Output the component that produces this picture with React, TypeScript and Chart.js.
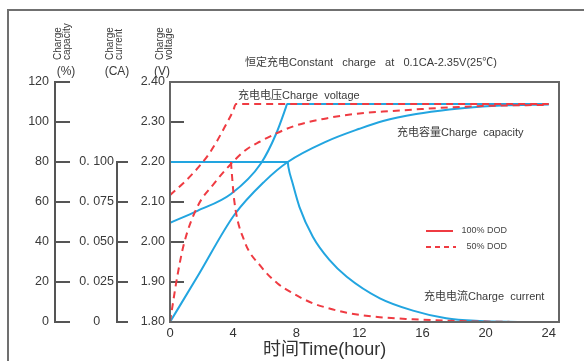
import React, { useEffect, useRef } from 'react';
import { Chart, registerables } from 'chart.js';

Chart.register(...registerables);

// ---------- data ----------
const xTicks = [0, 4, 8, 12, 16, 20, 24];
const xTickLabels = ['0', '4', '8', '12', '16', '20', '24'];

const voltageTicks = [1.8, 1.9, 2.0, 2.1, 2.2, 2.3, 2.4];
const voltageTickLabels = ['1.80', '1.90', '2.00', '2.10', '2.20', '2.30', '2.40'];
const capacityTicks = [0, 20, 40, 60, 80, 100, 120];
const capacityTickLabels = ['0', '20', '40', '60', '80', '100', '120'];
const currentTicks = [0, 0.025, 0.05, 0.075, 0.1];
const currentTickLabels = ['0', '0. 025', '0. 050', '0. 075', '0. 100'];

// 100% DOD (blue, solid)
const blueVoltageHours = [0, 1.74, 3.86, 5.77, 6.72, 7.35, 7.42, 24];
const blueVoltage = [2.048, 2.078, 2.12, 2.197, 2.27, 2.337, 2.345, 2.345];
const blueCapacityHours = [0, 1.74, 4.07, 5.98, 7.46, 9.9, 12, 13.5, 15.6, 17.7, 19.8, 21, 24];
const blueCapacity = [0, 22.7, 53.5, 70.2, 80, 90.2, 96.6, 100.5, 104, 106.3, 107.8, 108.3, 108.8];
const blueCurrentHours = [0, 7.46, 7.5, 7.77, 8.2, 9.05, 10.1, 11.2, 13.3, 15.4, 17.5, 19.6, 22.2];
const blueCurrent = [0.1, 0.1, 0.097, 0.0867, 0.072, 0.0533, 0.0388, 0.0283, 0.0148, 0.0071, 0.0023, 0.0006, 0];

// 50% DOD (red, dashed)
const redVoltageHours = [0, 1, 2, 2.5, 3, 3.5, 4, 4.18, 24];
const redVoltage = [2.117, 2.153, 2.196, 2.222, 2.254, 2.29, 2.328, 2.345, 2.345];
const redCapacityHours = [0, 0.46, 0.89, 1.74, 2.8, 3.86, 4.8, 5.65, 7.77, 9.9, 12, 13.5, 15.6, 17.7, 19.8, 24];
const redCapacity = [0, 22.7, 39.3, 57.7, 69.3, 79, 86, 90, 97.7, 101.8, 104.3, 105.2, 106.3, 107.3, 108, 108.6];
const redCurrentHours = [3.86, 4.07, 4.7, 5.77, 6.8, 7.77, 9.05, 9.9, 11.2, 13.3, 15.4, 17.5, 19.6, 22.2];
const redCurrent = [0.1, 0.076, 0.051, 0.0346, 0.0242, 0.018, 0.0117, 0.009, 0.0058, 0.003, 0.0017, 0.0008, 0.0003, 0];

const legendLabels = ['100% DOD', '50% DOD'];
const titleText = '恒定充电Constant   charge   at   0.1CA-2.35V(25℃)';
const voltageNote = '充电电压Charge  voltage';
const capacityNote = '充电容量Charge  capacity';
const currentNote = '充电电流Charge  current';
const xTitle = '时间Time(hour)';

// ---------- styles ----------
const FONT = '"Liberation Sans", "Noto Sans CJK SC", Arial, sans-serif';
const BLUE = '#22a5e0';
const RED = '#ef3b42';
const AXIS = '#555555';
const TEXT = '#3a3a3a';
const DASH = [7, 5];

const pts = (xs: number[], ys: number[]) => xs.map((x, i) => ({ x, y: ys[i] }));

const annotations = {
  id: 'annotations',
  afterDraw(chart: any) {
    const { ctx, chartArea, scales } = chart;
    ctx.save();
    // outer frame
    ctx.strokeStyle = '#707070';
    ctx.lineWidth = 2;
    ctx.beginPath();
    ctx.moveTo(8, 361);
    ctx.lineTo(8, 10);
    ctx.lineTo(584, 10);
    ctx.stroke();

    // plot frame
    ctx.strokeStyle = '#666666';
    ctx.lineWidth = 2;
    ctx.strokeRect(chartArea.left, chartArea.top, chartArea.right - chartArea.left, chartArea.bottom - chartArea.top);

    // current axis line (only spans 0 .. 0.100)
    const yc = scales.yC;
    ctx.strokeStyle = AXIS;
    ctx.lineWidth = 2;
    ctx.beginPath();
    ctx.moveTo(yc.right, yc.getPixelForValue(currentTicks[0]) + 1);
    ctx.lineTo(yc.right, yc.getPixelForValue(currentTicks[currentTicks.length - 1]) - 1);
    ctx.stroke();

    // texts
    ctx.fillStyle = TEXT;
    ctx.textBaseline = 'middle';
    ctx.font = `11px ${FONT}`;
    ctx.textAlign = 'center';
    ctx.fillText(titleText, 371, 63);
    ctx.textAlign = 'left';
    ctx.fillText(voltageNote, 238, 96);
    ctx.fillText(capacityNote, 397, 133);
    ctx.fillText(currentNote, 424, 297);

    ctx.font = `18px ${FONT}`;
    ctx.fillStyle = '#333';
    ctx.fillText(xTitle, 263, 350);

    // axis headings
    ctx.fillStyle = TEXT;
    const vtext = (t: string, x: number, y: number) => {
      ctx.save();
      ctx.translate(x, y);
      ctx.rotate(-Math.PI / 2);
      ctx.textAlign = 'left';
      ctx.fillText(t, 0, 0);
      ctx.restore();
    };
    ctx.font = `10px ${FONT}`;
    vtext('Charge', 58, 60);
    vtext('capacity', 67, 60);
    vtext('Charge', 110, 60);
    vtext('current', 119, 60);
    vtext('Charge', 160, 60);
    vtext('voltage', 169, 60);
    ctx.font = `12px ${FONT}`;
    ctx.textAlign = 'center';
    ctx.fillText('(%)', 66, 72);
    ctx.fillText('(CA)', 117, 72);
    ctx.fillText('(V)', 162, 72);

    // legend
    ctx.lineWidth = 2;
    ctx.strokeStyle = RED;
    ctx.beginPath();
    ctx.moveTo(426, 231);
    ctx.lineTo(453, 231);
    ctx.stroke();
    ctx.setLineDash([5, 4]);
    ctx.beginPath();
    ctx.moveTo(426, 247);
    ctx.lineTo(456, 247);
    ctx.stroke();
    ctx.setLineDash([]);
    ctx.font = `9px ${FONT}`;
    ctx.fillStyle = '#444';
    ctx.textAlign = 'right';
    ctx.fillText(legendLabels[0], 507, 231);
    ctx.fillText(legendLabels[1], 507, 247);
    ctx.restore();
  },
};

export default function App() {
  const ref = useRef<HTMLCanvasElement>(null);

  useEffect(() => {
    document.body.style.margin = '0';
    const canvas = ref.current!;
    const common = {
      borderWidth: 2,
      pointRadius: 0,
      fill: false,
      cubicInterpolationMode: 'monotone' as const,
    };
    const chart = new Chart(canvas, {
      type: 'line',
      data: {
        datasets: [
          { ...common, label: 'v50', data: pts(redVoltageHours, redVoltage), borderColor: RED, borderDash: DASH, yAxisID: 'yV' },
          { ...common, label: 'c50', data: pts(redCapacityHours, redCapacity), borderColor: RED, borderDash: DASH, yAxisID: 'yP' },
          { ...common, label: 'i50', data: pts(redCurrentHours, redCurrent), borderColor: RED, borderDash: DASH, yAxisID: 'yC' },
          { ...common, label: 'v100', data: pts(blueVoltageHours, blueVoltage), borderColor: BLUE, yAxisID: 'yV' },
          { ...common, label: 'c100', data: pts(blueCapacityHours, blueCapacity), borderColor: BLUE, yAxisID: 'yP' },
          { ...common, label: 'i100', data: pts(blueCurrentHours, blueCurrent), borderColor: BLUE, yAxisID: 'yC' },
        ],
      },
      options: {
        animation: false,
        responsive: false,
        devicePixelRatio: 1,
        layout: { padding: { left: 0, right: 25, top: 82, bottom: 0 } },
        plugins: { legend: { display: false }, tooltip: { enabled: false } },
        scales: {
          x: {
            type: 'linear',
            position: 'bottom',
            min: 0,
            max: 24.65,
            afterBuildTicks: (s: any) => { s.ticks = xTicks.map((v) => ({ value: v })); },
            afterFit: (s: any) => { s.height = 39; },
            grid: { display: false, drawTicks: false, tickLength: 0 },
            border: { display: false },
            ticks: {
              autoSkip: false,
              maxRotation: 0,
              padding: 4,
              color: '#333',
              font: { family: FONT, size: 13 },
              callback: (_v: any, i: number) => xTickLabels[i],
            },
          },
          yV: {
            type: 'linear',
            position: 'left',
            weight: 1,
            min: 1.8,
            max: 2.4,
            afterBuildTicks: (s: any) => { s.ticks = voltageTicks.map((v) => ({ value: v })); },
            afterFit: (s: any) => { s.width = 53; },
            grid: { drawOnChartArea: false, tickLength: -14, color: AXIS, lineWidth: 2 },
            border: { display: true, color: AXIS, width: 2 },
            ticks: {
              autoSkip: false,
              padding: 19,
              color: TEXT,
              font: { family: FONT, size: 12.5 },
              callback: (_v: any, i: number) => voltageTickLabels[i],
            },
          },
          yC: {
            type: 'linear',
            position: 'left',
            weight: 2,
            min: 0,
            max: 0.15,
            afterBuildTicks: (s: any) => { s.ticks = currentTicks.map((v) => ({ value: v })); },
            afterFit: (s: any) => { s.width = 62; },
            grid: { drawOnChartArea: false, tickLength: -11, color: AXIS, lineWidth: 2 },
            border: { display: false },
            ticks: {
              autoSkip: false,
              padding: 14,
              crossAlign: 'center',
              color: TEXT,
              font: { family: FONT, size: 12.5 },
              callback: (_v: any, i: number) => currentTickLabels[i],
            },
          },
          yP: {
            type: 'linear',
            position: 'left',
            weight: 3,
            min: 0,
            max: 120,
            afterBuildTicks: (s: any) => { s.ticks = capacityTicks.map((v) => ({ value: v })); },
            afterFit: (s: any) => { s.width = 55; },
            grid: { drawOnChartArea: false, tickLength: -15, color: AXIS, lineWidth: 2 },
            border: { display: true, color: AXIS, width: 2 },
            ticks: {
              autoSkip: false,
              padding: 21,
              color: TEXT,
              font: { family: FONT, size: 12.5 },
              callback: (_v: any, i: number) => capacityTickLabels[i],
            },
          },
        },
      } as any,
      plugins: [annotations],
    });
    return () => chart.destroy();
  }, []);

  return <canvas ref={ref} width={584} height={361} style={{ display: 'block' }} />;
}
